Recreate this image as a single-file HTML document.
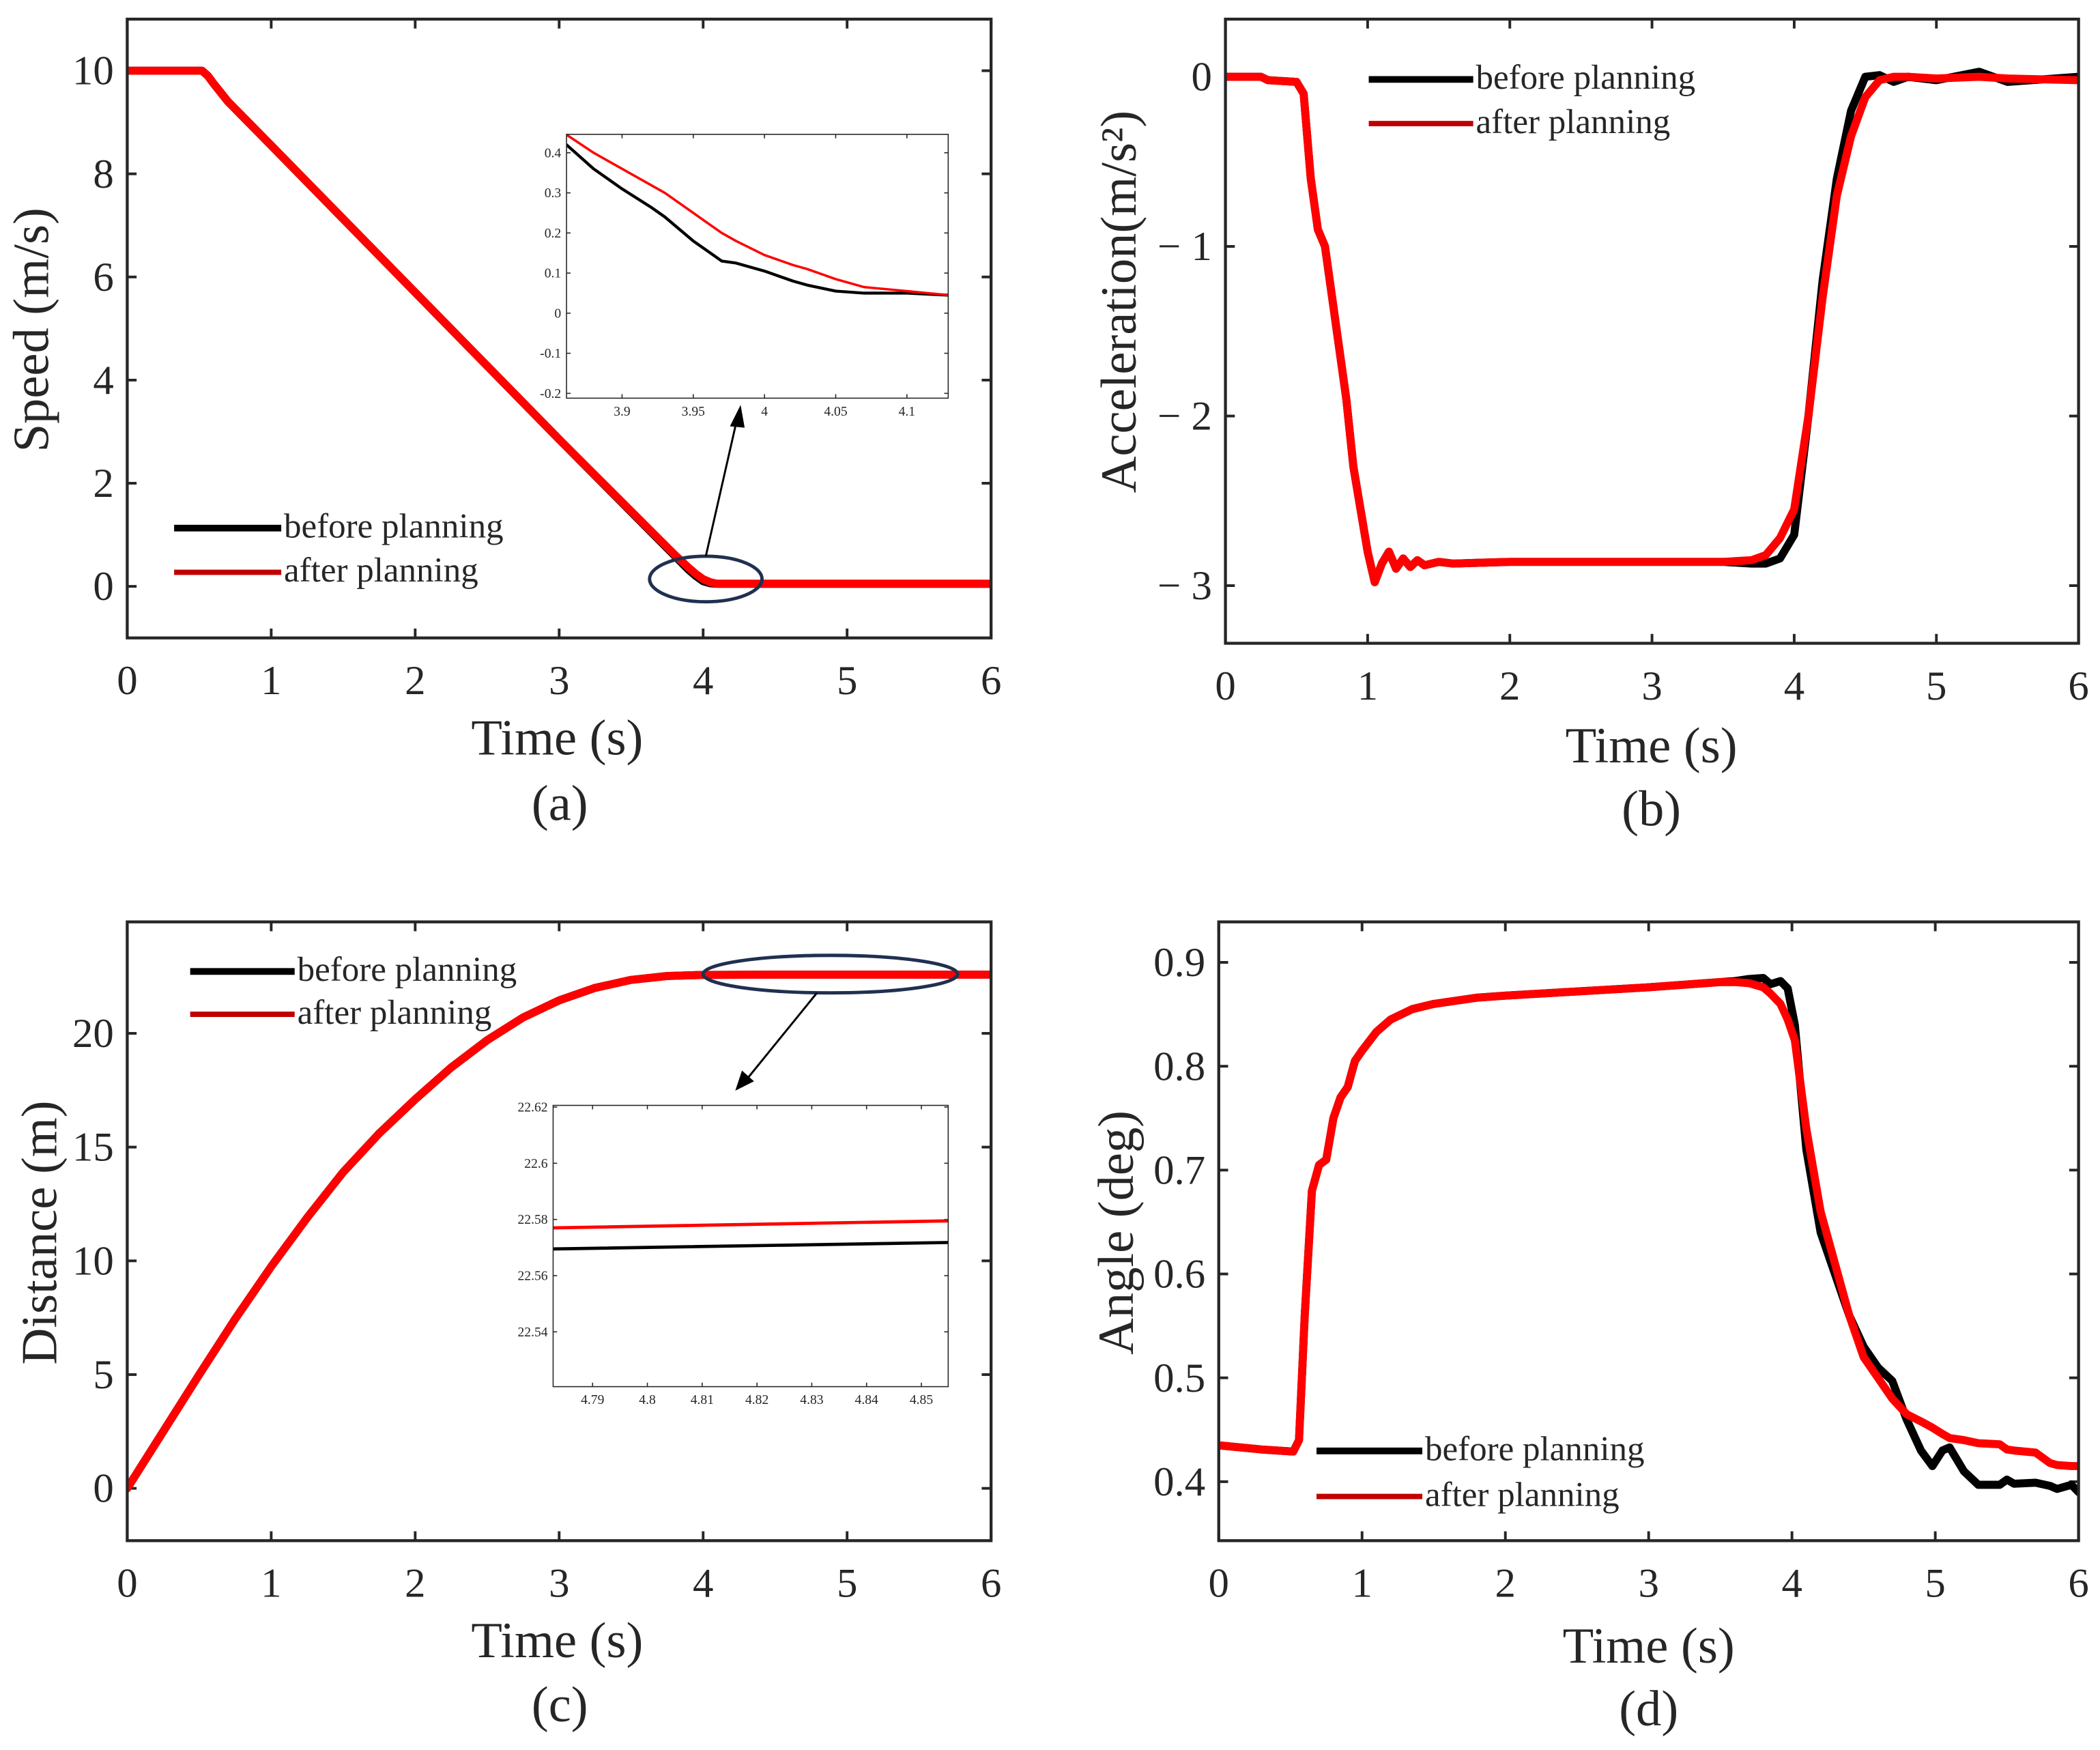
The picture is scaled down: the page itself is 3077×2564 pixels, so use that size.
<!DOCTYPE html>
<html><head><meta charset="utf-8"><style>
html,body{margin:0;padding:0;background:#fff;}
svg{display:block;}
text{font-family:"Liberation Serif","Times New Roman",serif;fill:#262626;}
</style></head><body>
<svg id="fig" xmlns="http://www.w3.org/2000/svg" width="3077" height="2564" viewBox="0 0 1568 1306" font-family="Liberation Serif, serif"></svg>
<script>
// ---- Data ----
const timeTicks = [0,1,2,3,4,5,6];
// (a) speed
const speedT      = [0,0.52,0.56,0.6,0.7,1,2,3,3.8,3.9,3.95,4.0,4.05,4.1,5,6];
const speedBefore = [10,10,9.9,9.75,9.4,8.55,5.7,2.85,0.6,0.32,0.2,0.1,0.06,0.05,0.05,0.05];
const speedAfter  = [10,10,9.9,9.75,9.4,8.55,5.7,2.85,0.62,0.36,0.24,0.14,0.08,0.05,0.05,0.05];
const speedTicks  = [0,2,4,6,8,10];
const insetAT      = [3.861,3.88,3.9,3.92,3.93,3.95,3.96,3.97,3.98,4.0,4.02,4.03,4.05,4.07,4.1,4.129];
const insetABefore = [0.42,0.36,0.31,0.265,0.24,0.18,0.155,0.13,0.125,0.105,0.08,0.07,0.055,0.05,0.05,0.045];
const insetAAfter  = [0.445,0.4,0.36,0.32,0.3,0.25,0.225,0.2,0.18,0.145,0.12,0.11,0.085,0.065,0.055,0.045];
const insetAXTicks = [3.9,3.95,4,4.05,4.1];
const insetAXLabels= ["3.9","3.95","4","4.05","4.1"];
const insetAYTicks = [-0.2,-0.1,0,0.1,0.2,0.3,0.4];
// (b) acceleration
const accT      = [0,0.25,0.3,0.5,0.55,0.6,0.65,0.7,0.8,0.85,0.9,1.0,1.05,1.1,1.15,1.2,1.25,1.3,1.35,1.4,1.5,1.6,2,3.5,3.7,3.8,3.9,4.0,4.1,4.2,4.3,4.4,4.5,4.6,4.7,4.8,5.0,5.3,5.5,6];
const accAfter  = [0,0,-0.02,-0.03,-0.1,-0.6,-0.9,-1.0,-1.6,-1.9,-2.3,-2.8,-2.98,-2.87,-2.8,-2.9,-2.84,-2.89,-2.85,-2.88,-2.86,-2.87,-2.86,-2.86,-2.85,-2.82,-2.72,-2.55,-2.0,-1.3,-0.7,-0.35,-0.12,-0.02,0,0,-0.01,0,-0.01,-0.02];
const accBefore = [0,0,-0.02,-0.03,-0.1,-0.6,-0.9,-1.0,-1.6,-1.9,-2.3,-2.8,-2.98,-2.87,-2.8,-2.9,-2.84,-2.89,-2.85,-2.88,-2.86,-2.87,-2.86,-2.86,-2.87,-2.87,-2.84,-2.7,-2.0,-1.2,-0.6,-0.2,0,0.01,-0.03,0,-0.02,0.03,-0.03,0];
const accTicks  = [-3,-2,-1,0];
// (c) distance
const distT      = [0,0.25,0.5,0.75,1,1.25,1.5,1.75,2,2.25,2.5,2.75,3,3.25,3.5,3.75,4,4.5,6];
const distBefore = [0,2.5,5,7.45,9.75,11.9,13.9,15.6,17.1,18.5,19.7,20.7,21.45,22.0,22.35,22.52,22.57,22.58,22.58];
const distAfter  = [0,2.5,5,7.45,9.75,11.9,13.9,15.6,17.1,18.5,19.7,20.7,21.45,22.0,22.35,22.52,22.57,22.58,22.58];
const distTicks  = [0,5,10,15,20];
const insetCT      = [4.7828,4.8549];
const insetCBefore = [22.5695,22.5718];
const insetCAfter  = [22.577,22.5795];
const insetCXTicks = [4.79,4.8,4.81,4.82,4.83,4.84,4.85];
const insetCYTicks = [22.54,22.56,22.58,22.6,22.62];
// (d) angle
const angT = [0,0.3,0.52,0.56,0.6,0.65,0.7,0.75,0.8,0.85,0.9,0.95,1.0,1.1,1.2,1.35,1.5,1.8,2,2.5,3,3.5,3.6,3.7,3.8,3.85,3.92,3.97,4.02,4.1,4.2,4.3,4.4,4.5,4.6,4.7,4.8,4.9,4.98,5.05,5.1,5.2,5.3,5.45,5.5,5.55,5.7,5.8,5.85,5.95,6];
const angBefore = [0.435,0.431,0.429,0.44,0.56,0.68,0.705,0.71,0.75,0.77,0.78,0.805,0.815,0.833,0.845,0.855,0.86,0.866,0.868,0.872,0.876,0.881,0.882,0.884,0.885,0.879,0.882,0.875,0.84,0.72,0.64,0.6,0.56,0.53,0.51,0.497,0.46,0.43,0.415,0.43,0.433,0.41,0.397,0.397,0.402,0.398,0.399,0.396,0.393,0.397,0.39];
const angAfter  = [0.435,0.431,0.429,0.44,0.56,0.68,0.705,0.71,0.75,0.77,0.78,0.805,0.815,0.833,0.845,0.855,0.86,0.866,0.868,0.872,0.876,0.881,0.881,0.88,0.876,0.87,0.86,0.845,0.825,0.74,0.66,0.61,0.56,0.52,0.5,0.48,0.465,0.458,0.452,0.446,0.442,0.44,0.437,0.436,0.431,0.43,0.428,0.418,0.416,0.415,0.415];
const angTicks = [0.4,0.5,0.6,0.7,0.8,0.9];

const NS = "http://www.w3.org/2000/svg";
const svg = document.getElementById('fig');
const FF = "Liberation Serif, serif";
function el(tag, attrs, parent){
  const e = document.createElementNS(NS, tag);
  for (const k in attrs) e.setAttribute(k, attrs[k]);
  (parent||svg).appendChild(e);
  return e;
}
function scale(d0,d1,r0,r1){ return v => r0 + (v-d0)/(d1-d0)*(r1-r0); }

function axes(name, box, xlim, ylim, xt, yt, xl, yl, opts){
  const g = el('g', {});
  
  
  const sx = scale(xlim[0],xlim[1],box.x0,box.x1);
  const sy = scale(ylim[0],ylim[1],box.y1,box.y0);
  const tl = opts.tick, fs = opts.fs, sw = opts.sw;
  xt.forEach((v,i)=>{
    const x = sx(v);
    el('line',{x1:x,y1:box.y1,x2:x,y2:box.y1-tl,stroke:'#262626','stroke-width':sw},g);
    el('line',{x1:x,y1:box.y0,x2:x,y2:box.y0+tl,stroke:'#262626','stroke-width':sw},g);
    const t = el('text',{x:x,y:box.y1+opts.xlabOff,'font-size':fs,'text-anchor':'middle','font-family':FF},g);
    
    
    t.textContent = xl ? xl[i] : String(v);
  });
  yt.forEach((v,i)=>{
    const y = sy(v);
    el('line',{x1:box.x0,y1:y,x2:box.x0+tl,y2:y,stroke:'#262626','stroke-width':sw},g);
    el('line',{x1:box.x1,y1:y,x2:box.x1-tl,y2:y,stroke:'#262626','stroke-width':sw},g);
    const t = el('text',{x:box.x0-opts.ylabOff,y:y+fs*0.33,'font-size':fs,'text-anchor':'end','font-family':FF},g);
    
    
    t.textContent = yl ? yl[i] : String(v);
  });
  return {sx, sy, g};
}
function series(ax, name, xs, ys, color, w, clip){
  const d = xs.map((x,i)=>(i?'L':'M')+ax.sx(x).toFixed(2)+','+ax.sy(ys[i]).toFixed(2)).join(' ');
  const p = el('path',{d:d,fill:'none',stroke:color,'stroke-width':w,'stroke-linejoin':'round','stroke-linecap':'round'});
  if (clip) p.setAttribute('clip-path', clip);
  
  
}
function frame(name, box, sw){
  const r = el('rect',{x:box.x0,y:box.y0,width:box.x1-box.x0,height:box.y1-box.y0,fill:'none',stroke:'#262626','stroke-width':sw});
  
  
}
function label(name, txt, x, y, fs, rot, anchor){
  const t = el('text',{x:x,y:y,'font-size':fs,'text-anchor':anchor||'middle','font-family':FF});
  if (rot) t.setAttribute('transform','rotate(-90 '+x+' '+y+')');
  
  
  t.textContent = txt;
  return t;
}
function legend(name, x0, x1, yb, ya, fs){
  const g = el('g',{});
  
  
  el('line',{x1:x0,y1:yb,x2:x1,y2:yb,stroke:'#000','stroke-width':5},g);
  el('line',{x1:x0,y1:ya,x2:x1,y2:ya,stroke:'#c00000','stroke-width':4},g);
  const t1 = el('text',{x:x1+2,y:yb+7,'font-size':fs,'font-family':FF},g); t1.textContent='before planning';
  
  
  const t2 = el('text',{x:x1+2,y:ya+7,'font-size':fs,'font-family':FF},g); t2.textContent='after planning';
  
  
}
function clipRect(id, box){
  const defs = el('defs',{});
  const c = el('clipPath',{id:id},defs);
  el('rect',{x:box.x0,y:box.y0,width:box.x1-box.x0,height:box.y1-box.y0},c);
  return 'url(#'+id+')';
}
const mainOpts = {tick:7, fs:31, sw:2, xlabOff:42, ylabOff:10};
const LW = 6;

// ---- (a) ----
const boxA = {x0:95,x1:740,y0:14,y1:476};
const axA = axes('speed-axes', boxA, [0,6], [-1,11], timeTicks, speedTicks, null, null, mainOpts);
const clA = clipRect('clA', boxA);
series(axA,'speed-before-line',speedT,speedBefore,'#000',LW,clA);
series(axA,'speed-after-line',speedT,speedAfter,'#ff0000',LW,clA);
frame('speed-frame', boxA, 2.2);
label('speed-x-title','Time (s)',416,563,38);
label('speed-y-title','Speed (m/s)',36,246,38,true);
label('panel-a-label','(a)',418,612,38);
legend('speed-legend',130,210,394,427,26);
el('ellipse',{cx:527,cy:432,rx:42,ry:17,fill:'none',stroke:'#1f3050','stroke-width':2.5});
el('line',{x1:527,y1:415,x2:550,y2:314,stroke:'#000','stroke-width':1.5});
el('polygon',{points:'553,302 545,318 556,319',fill:'#000'});
const boxAI = {x0:423,x1:708,y0:100,y1:297};
const axAI = axes('speed-inset-axes', boxAI, [3.861,4.129], [-0.212,0.446], insetAXTicks, insetAYTicks, insetAXLabels, null, {tick:3, fs:10, sw:0.8, xlabOff:13, ylabOff:4});
const clAI = clipRect('clAI', boxAI);
series(axAI,'speed-inset-before',insetAT,insetABefore,'#000',2.2,clAI);
series(axAI,'speed-inset-after',insetAT,insetAAfter,'#ff0000',1.8,clAI);
frame('speed-inset-frame', boxAI, 0.8);

// ---- (b) ----
const boxB = {x0:915,x1:1552,y0:14,y1:480};
const axB = axes('accel-axes', boxB, [0,6], [-3.34,0.34], timeTicks, accTicks, null, ['− 3','− 2','− 1','0'], mainOpts);
const clB = clipRect('clB', boxB);
series(axB,'accel-before-line',accT,accBefore,'#000',LW,clB);
series(axB,'accel-after-line',accT,accAfter,'#ff0000',LW,clB);
frame('accel-frame', boxB, 2.2);
label('accel-x-title','Time (s)',1233,569,38);
label('accel-y-title','Acceleration(m/s²)',848,225,38,true);
label('panel-b-label','(b)',1233,616,38);
legend('accel-legend',1022,1100,59,92,26);

// ---- (c) ----
const boxC = {x0:95,x1:740,y0:688,y1:1150};
const axC = axes('distance-axes', boxC, [0,6], [-2.3,24.9], timeTicks, distTicks, null, null, mainOpts);
const clC = clipRect('clC', boxC);
series(axC,'distance-before-line',distT,distBefore,'#000',LW,clC);
series(axC,'distance-after-line',distT,distAfter,'#ff0000',LW,clC);
frame('distance-frame', boxC, 2.2);
label('distance-x-title','Time (s)',416,1237,38);
label('distance-y-title','Distance (m)',42,920,38,true);
label('panel-c-label','(c)',418,1285,38);
legend('distance-legend',142,220,725,757,26);
el('ellipse',{cx:620,cy:727,rx:95,ry:14,fill:'none',stroke:'#1f3050','stroke-width':2.5});
el('line',{x1:610,y1:741,x2:558,y2:805,stroke:'#000','stroke-width':1.5});
el('polygon',{points:'549,814 554,799 563,807',fill:'#000'});
const boxCI = {x0:413,x1:708,y0:825,y1:1035};
const axCI = axes('distance-inset-axes', boxCI, [4.7828,4.8549], [22.5205,22.6206], insetCXTicks, insetCYTicks, null, null, {tick:3, fs:10, sw:0.8, xlabOff:13, ylabOff:4});
const clCI = clipRect('clCI', boxCI);
series(axCI,'distance-inset-before',insetCT,insetCBefore,'#000',2.4,clCI);
series(axCI,'distance-inset-after',insetCT,insetCAfter,'#ff0000',2.4,clCI);
frame('distance-inset-frame', boxCI, 0.8);

// ---- (d) ----
const boxD = {x0:910,x1:1552,y0:688,y1:1150};
const axD = axes('angle-axes', boxD, [0,6], [0.3432,0.939], timeTicks, angTicks, null, null, mainOpts);
const clD = clipRect('clD', boxD);
series(axD,'angle-before-line',angT,angBefore,'#000',LW,clD);
series(axD,'angle-after-line',angT,angAfter,'#ff0000',LW,clD);
frame('angle-frame', boxD, 2.2);
label('angle-x-title','Time (s)',1231,1241,38);
label('angle-y-title','Angle (deg)',846,920,38,true);
label('panel-d-label','(d)',1231,1288,38);
legend('angle-legend',983,1062,1083,1117,26);
</script>
</body></html>
